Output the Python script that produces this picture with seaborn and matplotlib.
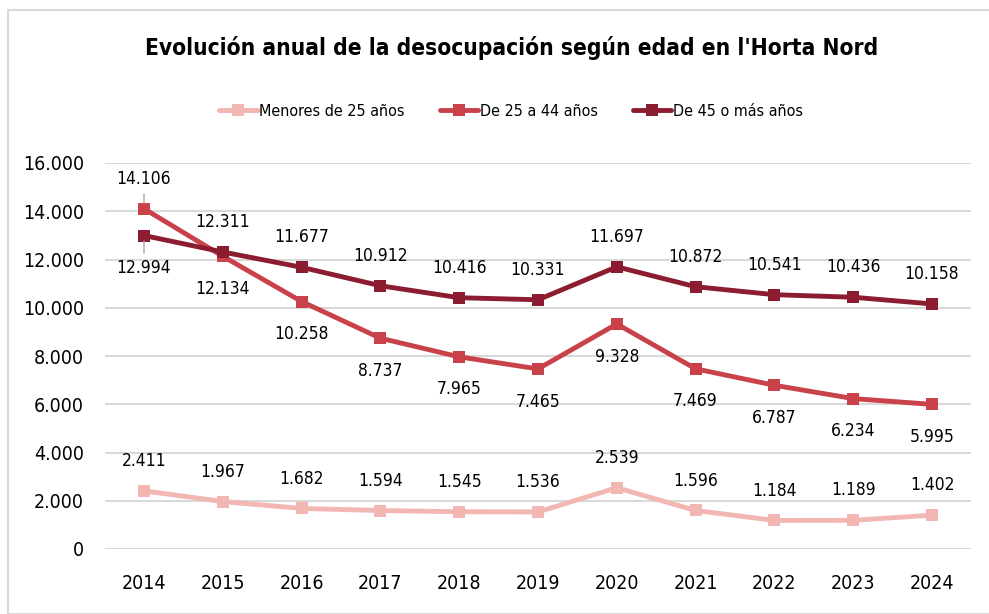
import matplotlib
matplotlib.use("Agg")
import matplotlib.pyplot as plt
import seaborn as sns
import pandas as pd
from matplotlib.patches import Rectangle

years = ["2014", "2015", "2016", "2017", "2018", "2019", "2020", "2021", "2022", "2023", "2024"]
menores25 = [2411, 1967, 1682, 1594, 1545, 1536, 2539, 1596, 1184, 1189, 1402]
de25a44 = [14106, 12134, 10258, 8737, 7965, 7465, 9328, 7469, 6787, 6234, 5995]
de45mas = [12994, 12311, 11677, 10912, 10416, 10331, 11697, 10872, 10541, 10436, 10158]
series_names = ["Menores de 25 años", "De 25 a 44 años", "De 45 o más años"]
colors = ["#F2B6B3", "#C9424A", "#8C1C30"]
yticks = [0, 2000, 4000, 6000, 8000, 10000, 12000, 14000, 16000]

sns.set_theme(style="white")
plt.rcParams['font.family'] = ['DejaVu Sans']
plt.rcParams['font.stretch'] = 'condensed'
plt.rcParams['text.color'] = 'black'

df = pd.DataFrame({"year": years * 3,
                   "value": menores25 + de25a44 + de45mas,
                   "serie": [s for s in series_names for _ in years]})

fig = plt.figure(figsize=(9.89, 6.14), dpi=100)
ax = fig.add_axes([104.6 / 989, 1 - 549 / 614, (971.4 - 104.6) / 989, (549 - 163) / 614])

sns.lineplot(data=df, x="year", y="value", hue="serie", hue_order=series_names,
             palette=colors, marker="s", markersize=9, markeredgewidth=0,
             linewidth=3.5, ax=ax, sort=False)

ax.set_xlim(-0.5, len(years) - 0.5)
ax.set_ylim(0, 16000)
ax.set_yticks(yticks)
ax.set_yticklabels([f"{v:,}".replace(",", ".") for v in yticks])
ax.grid(axis="y", color="#D9D9D9", linewidth=1.5)
ax.set_axisbelow(True)
for s in ax.spines.values():
    s.set_visible(False)
ax.tick_params(axis="y", length=0, labelsize=14, colors="black", pad=15)
ax.tick_params(axis="x", length=0, labelsize=14, colors="black", pad=18)
ax.set_xlabel("")
ax.set_ylabel("")

def fmt(v):
    return f"{v:,}".replace(",", ".")

fs = 12.5
up, down = 15, 17
for i, v in enumerate(menores25):
    ax.annotate(fmt(v), (i, v), xytext=(0, up), textcoords="offset points",
                ha="center", va="bottom", fontsize=fs)
for i, v in enumerate(de25a44):
    if i == 0:
        ax.annotate(fmt(v), (i, v), xytext=(0, up), textcoords="offset points",
                    ha="center", va="bottom", fontsize=fs,
                    arrowprops=dict(arrowstyle="-", color="#A6A6A6", lw=1, shrinkA=2, shrinkB=4))
    else:
        ax.annotate(fmt(v), (i, v), xytext=(0, -down), textcoords="offset points",
                    ha="center", va="top", fontsize=fs)
for i, v in enumerate(de45mas):
    if i == 0:
        ax.annotate(fmt(v), (i, v), xytext=(0, -down), textcoords="offset points",
                    ha="center", va="top", fontsize=fs,
                    arrowprops=dict(arrowstyle="-", color="#A6A6A6", lw=1, shrinkA=2, shrinkB=4))
    else:
        ax.annotate(fmt(v), (i, v), xytext=(0, up), textcoords="offset points",
                    ha="center", va="bottom", fontsize=fs)

leg = ax.legend(loc="center", bbox_to_anchor=(511 / 989, 1 - 111 / 614), bbox_transform=fig.transFigure,
                ncol=3, frameon=False, fontsize=11.5, handlelength=2.4, handletextpad=0.1,
                columnspacing=2.2)
for t in leg.get_texts():
    t.set_color("black")

fig.text(512 / 989, 1 - 48 / 614, "Evolución anual de la desocupación según edad en l'Horta Nord",
         ha="center", va="center", fontsize=16.3, fontweight="bold", color="black")

fig.patches.append(Rectangle((8 / 989, 0), 1, 1 - 10 / 614, transform=fig.transFigure,
                             fill=False, edgecolor="#D9D9D9", linewidth=1.5))

fig.savefig("out.png", dpi=100)
